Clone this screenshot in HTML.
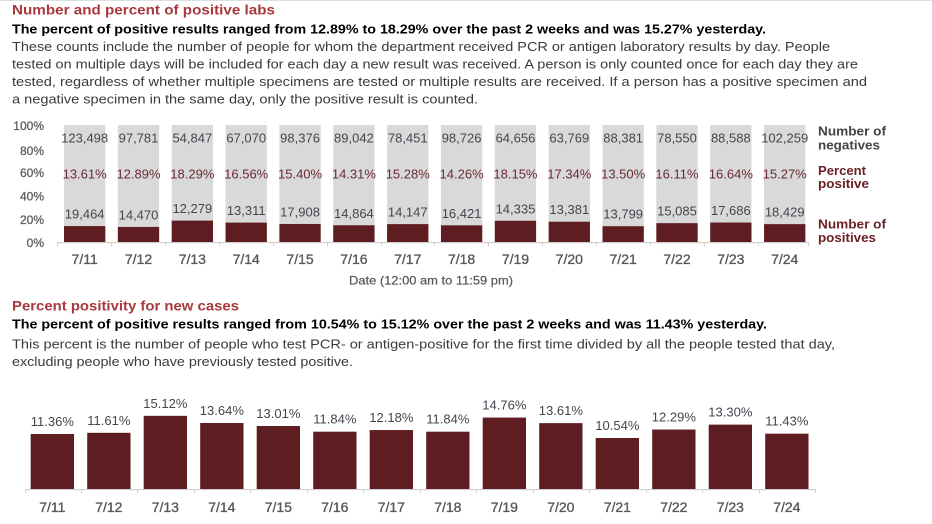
<!DOCTYPE html>
<html><head><meta charset="utf-8"><style>
html,body{margin:0;padding:0;background:#fff;}
svg{display:block;}
text{font-family:"Liberation Sans",sans-serif;}
.t{fill:#a8383d;font-weight:bold;font-size:14px;}
.s{fill:#000;font-weight:bold;font-size:13px;}
.b{fill:#3a3a3a;font-size:13px;}
.ax{fill:#595959;font-size:12px;stroke:#595959;stroke-width:0.25;}
.n{fill:#45454f;font-size:13px;text-anchor:middle;}
.p{fill:#6b2a35;font-size:13px;text-anchor:middle;}
.x{fill:#595959;font-size:14px;text-anchor:middle;stroke:#595959;stroke-width:0.35;}
.lg{font-weight:bold;font-size:13px;}
</style></head><body>
<svg width="932" height="524" viewBox="0 0 932 524" xmlns="http://www.w3.org/2000/svg">
<rect x="0" y="0" width="932" height="524" fill="#fff"/>
<rect x="0" y="0" width="932" height="1" fill="#dedede"/>
<text class="t" x="12" y="14.5" textLength="263" lengthAdjust="spacingAndGlyphs">Number and percent of positive labs</text>
<text class="s" x="12" y="33.5" textLength="754" lengthAdjust="spacingAndGlyphs">The percent of positive results ranged from 12.89% to 18.29% over the past 2 weeks and was 15.27% yesterday.</text>
<text class="b" x="12" y="51" textLength="818" lengthAdjust="spacingAndGlyphs">These counts include the number of people for whom the department received PCR or antigen laboratory results by day. People</text>
<text class="b" x="12" y="68.5" textLength="846" lengthAdjust="spacingAndGlyphs">tested on multiple days will be included for each day a new result was received. A person is only counted once for each day they are</text>
<text class="b" x="12" y="86" textLength="855" lengthAdjust="spacingAndGlyphs">tested, regardless of whether multiple specimens are tested or multiple results are received. If a person has a positive specimen and</text>
<text class="b" x="12" y="103.5" textLength="466" lengthAdjust="spacingAndGlyphs">a negative specimen in the same day, only the positive result is counted.</text>

<g class="ax" text-anchor="end">
<text x="44" y="130">100%</text>
<text x="44" y="155">80%</text>
<text x="44" y="177">60%</text>
<text x="44" y="200.5">40%</text>
<text x="44" y="224">20%</text>
<text x="44" y="247">0%</text>
</g>

<g fill="#d9d9d9">
<rect x="64" y="125" width="41.3" height="117"/>
<rect x="117.85" y="125" width="41.3" height="117"/>
<rect x="171.7" y="125" width="41.3" height="117"/>
<rect x="225.55" y="125" width="41.3" height="117"/>
<rect x="279.4" y="125" width="41.3" height="117"/>
<rect x="333.25" y="125" width="41.3" height="117"/>
<rect x="387.1" y="125" width="41.3" height="117"/>
<rect x="440.95" y="125" width="41.3" height="117"/>
<rect x="494.8" y="125" width="41.3" height="117"/>
<rect x="548.65" y="125" width="41.3" height="117"/>
<rect x="602.5" y="125" width="41.3" height="117"/>
<rect x="656.35" y="125" width="41.3" height="117"/>
<rect x="710.2" y="125" width="41.3" height="117"/>
<rect x="764.05" y="125" width="41.3" height="117"/>
</g>
<g fill="#5e1d20">
<rect x="64" y="226.08" width="41.3" height="15.92"/>
<rect x="117.85" y="226.92" width="41.3" height="15.08"/>
<rect x="171.7" y="220.6" width="41.3" height="21.4"/>
<rect x="225.55" y="222.62" width="41.3" height="19.38"/>
<rect x="279.4" y="223.98" width="41.3" height="18.02"/>
<rect x="333.25" y="225.26" width="41.3" height="16.74"/>
<rect x="387.1" y="224.12" width="41.3" height="17.88"/>
<rect x="440.95" y="225.32" width="41.3" height="16.68"/>
<rect x="494.8" y="220.76" width="41.3" height="21.24"/>
<rect x="548.65" y="221.71" width="41.3" height="20.29"/>
<rect x="602.5" y="226.2" width="41.3" height="15.8"/>
<rect x="656.35" y="223.15" width="41.3" height="18.85"/>
<rect x="710.2" y="222.53" width="41.3" height="19.47"/>
<rect x="764.05" y="224.13" width="41.3" height="17.87"/>
</g>
<rect x="57" y="242" width="752" height="1.2" fill="#d0d0d0"/>
<g fill="#d0d0d0">
<rect x="57" y="242" width="1" height="4"/><rect x="111" y="242" width="1" height="4"/><rect x="165" y="242" width="1" height="4"/><rect x="219" y="242" width="1" height="4"/><rect x="273" y="242" width="1" height="4"/><rect x="327" y="242" width="1" height="4"/><rect x="381" y="242" width="1" height="4"/><rect x="434" y="242" width="1" height="4"/><rect x="488" y="242" width="1" height="4"/><rect x="542" y="242" width="1" height="4"/><rect x="596" y="242" width="1" height="4"/><rect x="650" y="242" width="1" height="4"/><rect x="704" y="242" width="1" height="4"/><rect x="758" y="242" width="1" height="4"/><rect x="808" y="242" width="1" height="4"/>
</g>
<g class="n">
<text x="84.65" y="142.5">123,498</text>
<text x="138.5" y="142.5">97,781</text>
<text x="192.35" y="142.5">54,847</text>
<text x="246.2" y="142.5">67,070</text>
<text x="300.05" y="142.5">98,376</text>
<text x="353.9" y="142.5">89,042</text>
<text x="407.75" y="142.5">78,451</text>
<text x="461.6" y="142.5">98,726</text>
<text x="515.45" y="142.5">64,656</text>
<text x="569.3" y="142.5">63,769</text>
<text x="623.15" y="142.5">88,381</text>
<text x="677" y="142.5">78,550</text>
<text x="730.85" y="142.5">88,588</text>
<text x="784.7" y="142.5">102,259</text>
</g>
<g class="p">
<text x="84.65" y="178.5">13.61%</text>
<text x="138.5" y="178.5">12.89%</text>
<text x="192.35" y="178.5">18.29%</text>
<text x="246.2" y="178.5">16.56%</text>
<text x="300.05" y="178.5">15.40%</text>
<text x="353.9" y="178.5">14.31%</text>
<text x="407.75" y="178.5">15.28%</text>
<text x="461.6" y="178.5">14.26%</text>
<text x="515.45" y="178.5">18.15%</text>
<text x="569.3" y="178.5">17.34%</text>
<text x="623.15" y="178.5">13.50%</text>
<text x="677" y="178.5">16.11%</text>
<text x="730.85" y="178.5">16.64%</text>
<text x="784.7" y="178.5">15.27%</text>
</g>
<g class="n">
<text x="84.65" y="218.6">19,464</text>
<text x="138.5" y="219.4">14,470</text>
<text x="192.35" y="213.1">12,279</text>
<text x="246.2" y="215.1">13,311</text>
<text x="300.05" y="216.5">17,908</text>
<text x="353.9" y="217.8">14,864</text>
<text x="407.75" y="216.6">14,147</text>
<text x="461.6" y="217.8">16,421</text>
<text x="515.45" y="213.3">14,335</text>
<text x="569.3" y="214.2">13,381</text>
<text x="623.15" y="218.7">13,799</text>
<text x="677" y="215.6">15,085</text>
<text x="730.85" y="215">17,686</text>
<text x="784.7" y="216.6">18,429</text>
</g>
<g class="x">
<text x="84.65" y="264">7/11</text>
<text x="138.5" y="264">7/12</text>
<text x="192.35" y="264">7/13</text>
<text x="246.2" y="264">7/14</text>
<text x="300.05" y="264">7/15</text>
<text x="353.9" y="264">7/16</text>
<text x="407.75" y="264">7/17</text>
<text x="461.6" y="264">7/18</text>
<text x="515.45" y="264">7/19</text>
<text x="569.3" y="264">7/20</text>
<text x="623.15" y="264">7/21</text>
<text x="677" y="264">7/22</text>
<text x="730.85" y="264">7/23</text>
<text x="784.7" y="264">7/24</text>
</g>
<text x="349" y="284.5" fill="#555" font-size="12" stroke="#555" stroke-width="0.2" textLength="164" lengthAdjust="spacingAndGlyphs">Date (12:00 am to 11:59 pm)</text>
<text class="lg" x="818" y="135.5" fill="#444" textLength="68" lengthAdjust="spacingAndGlyphs">Number of</text>
<text class="lg" x="818" y="149.5" fill="#444" textLength="62" lengthAdjust="spacingAndGlyphs">negatives</text>
<text class="lg" x="818" y="175" fill="#6b1f24" textLength="48" lengthAdjust="spacingAndGlyphs">Percent</text>
<text class="lg" x="818" y="188" fill="#6b1f24" textLength="51" lengthAdjust="spacingAndGlyphs">positive</text>
<text class="lg" x="818" y="228.5" fill="#6b1f24" textLength="68" lengthAdjust="spacingAndGlyphs">Number of</text>
<text class="lg" x="818" y="242" fill="#6b1f24" textLength="58" lengthAdjust="spacingAndGlyphs">positives</text>

<text class="t" x="12" y="310.5" textLength="227" lengthAdjust="spacingAndGlyphs">Percent positivity for new cases</text>
<text class="s" x="12" y="328.5" textLength="755" lengthAdjust="spacingAndGlyphs">The percent of positive results ranged from 10.54% to 15.12% over the past 2 weeks and was 11.43% yesterday.</text>
<text class="b" x="12" y="348.3" textLength="823" lengthAdjust="spacingAndGlyphs">This percent is the number of people who test PCR- or antigen-positive for the first time divided by all the people tested that day,</text>
<text class="b" x="12" y="366" textLength="341" lengthAdjust="spacingAndGlyphs">excluding people who have previously tested positive.</text>

<g fill="#5e1d20">
<rect x="30.7" y="434.02" width="43.3" height="54.98"/>
<rect x="87.2" y="432.81" width="43.3" height="56.19"/>
<rect x="143.7" y="415.82" width="43.3" height="73.18"/>
<rect x="200.2" y="422.98" width="43.3" height="66.02"/>
<rect x="256.7" y="426.03" width="43.3" height="62.97"/>
<rect x="313.2" y="431.69" width="43.3" height="57.31"/>
<rect x="369.7" y="430.05" width="43.3" height="58.95"/>
<rect x="426.2" y="431.69" width="43.3" height="57.31"/>
<rect x="482.7" y="417.56" width="43.3" height="71.44"/>
<rect x="539.2" y="423.13" width="43.3" height="65.87"/>
<rect x="595.7" y="437.99" width="43.3" height="51.01"/>
<rect x="652.2" y="429.52" width="43.3" height="59.48"/>
<rect x="708.7" y="424.63" width="43.3" height="64.37"/>
<rect x="765.2" y="433.68" width="43.3" height="55.32"/>
</g>
<rect x="25" y="489" width="791" height="1.2" fill="#d0d0d0"/>
<g fill="#d0d0d0">
<rect x="25" y="489" width="1" height="4"/><rect x="81" y="489" width="1" height="4"/><rect x="137" y="489" width="1" height="4"/><rect x="194" y="489" width="1" height="4"/><rect x="250" y="489" width="1" height="4"/><rect x="307" y="489" width="1" height="4"/><rect x="363" y="489" width="1" height="4"/><rect x="420" y="489" width="1" height="4"/><rect x="476" y="489" width="1" height="4"/><rect x="533" y="489" width="1" height="4"/><rect x="589" y="489" width="1" height="4"/><rect x="646" y="489" width="1" height="4"/><rect x="702" y="489" width="1" height="4"/><rect x="759" y="489" width="1" height="4"/><rect x="815" y="489" width="1" height="4"/>
</g>
<g class="n">
<text x="52.35" y="426">11.36%</text>
<text x="108.85" y="424.8">11.61%</text>
<text x="165.35" y="407.8">15.12%</text>
<text x="221.85" y="415">13.64%</text>
<text x="278.35" y="418">13.01%</text>
<text x="334.85" y="423.7">11.84%</text>
<text x="391.35" y="422">12.18%</text>
<text x="447.85" y="423.7">11.84%</text>
<text x="504.35" y="409.6">14.76%</text>
<text x="560.85" y="415.1">13.61%</text>
<text x="617.35" y="430">10.54%</text>
<text x="673.85" y="421.5">12.29%</text>
<text x="730.35" y="416.6">13.30%</text>
<text x="786.85" y="425.7">11.43%</text>
</g>
<g class="x">
<text x="52.35" y="512">7/11</text>
<text x="108.85" y="512">7/12</text>
<text x="165.35" y="512">7/13</text>
<text x="221.85" y="512">7/14</text>
<text x="278.35" y="512">7/15</text>
<text x="334.85" y="512">7/16</text>
<text x="391.35" y="512">7/17</text>
<text x="447.85" y="512">7/18</text>
<text x="504.35" y="512">7/19</text>
<text x="560.85" y="512">7/20</text>
<text x="617.35" y="512">7/21</text>
<text x="673.85" y="512">7/22</text>
<text x="730.35" y="512">7/23</text>
<text x="786.85" y="512">7/24</text>
</g>
</svg>
</body></html>
